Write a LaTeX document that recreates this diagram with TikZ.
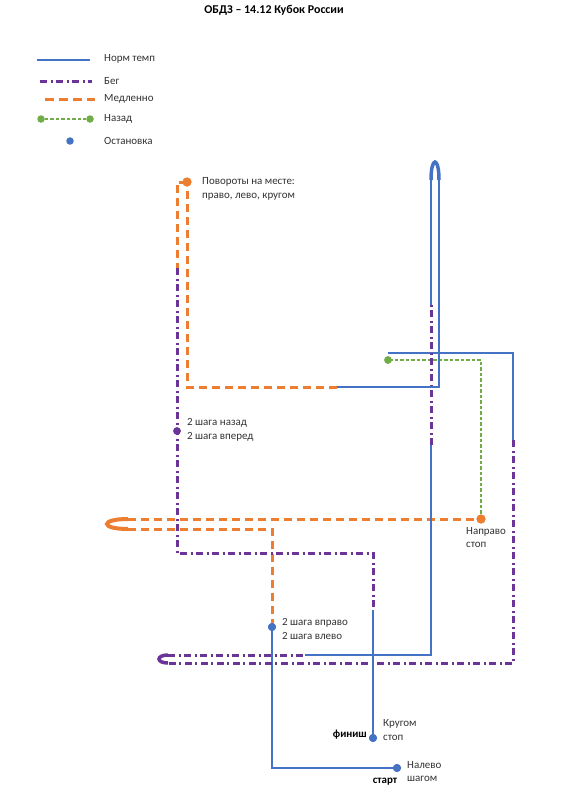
\documentclass[tikz,border=0pt]{standalone}
\usepackage{fontspec}
\setmainfont{Carlito}
\begin{document}
\begin{tikzpicture}[x=1bp,y=-1bp,
  lbl/.style={inner sep=0pt,anchor=west,align=left,text=txtc,font=\fontsize{11}{14}\selectfont},
  normline/.style={draw=myblue,line width=2.3bp},
  runline/.style={draw=mypurple,line width=3bp,dash pattern=on 7bp off 3.5bp on 2bp off 3.5bp},
  slowline/.style={draw=myorange,line width=3bp,dash pattern=on 8bp off 5bp},
  backline/.style={draw=mygreen,line width=1.4bp,dash pattern=on 3.5bp off 2bp},
  stopdot/.style={circle,inner sep=0pt,minimum size=8bp,fill=#1},
]
\definecolor{myblue}{HTML}{4472C4}
\definecolor{mypurple}{HTML}{6A3596}
\definecolor{myorange}{HTML}{ED7D31}
\definecolor{mygreen}{HTML}{70AD47}
\definecolor{txtc}{HTML}{333333}
\useasboundingbox[fill=white] (0,0) rectangle (587,800);

% title
\node[inner sep=0pt,font=\fontsize{12}{14}\selectfont\bfseries] (title) at (274,10) {ОБДЗ – 14.12 Кубок России};

% legend
\coordinate (l1a) at (37,60); \coordinate (l1b) at (90,60);
\draw[normline] (l1a) -- (l1b);
\node[lbl] (t1) at (104,59) {Норм темп};
\coordinate (l2a) at (40,81); \coordinate (l2b) at (92,81);
\draw[runline] (l2a) -- (l2b);
\node[lbl] (t2) at (104,81) {Бег};
\coordinate (l3a) at (45,99); \coordinate (l3b) at (95,99);
\draw[slowline,dash pattern=on 9bp off 5bp] (l3a) -- (l3b);
\node[lbl] (t3) at (104,99) {Медленно};
\node[stopdot=mygreen,minimum size=7.5bp] (l4a) at (41,119) {};
\node[stopdot=mygreen,minimum size=7.5bp] (l4b) at (90,119) {};
\draw[backline] (l4a) -- (l4b);
\node[lbl] (t4) at (104,119) {Назад};
\node[stopdot=myblue,minimum size=7.5bp] (l5) at (70,141) {};
\node[lbl] (t5) at (104,141) {Остановка};

% route points
\coordinate (s1) at (272,768);
\coordinate (o1) at (272,529);
\coordinate (o2) at (128,529);
\coordinate (o3) at (128,519);
\coordinate (g1) at (481,360);
\coordinate (b1) at (388,353);
\coordinate (b2) at (513,353);
\coordinate (b3) at (513,440);
\coordinate (p1) at (513,663);
\coordinate (p2) at (168,663);
\coordinate (p3) at (168,655);
\coordinate (p4) at (305,655);
\coordinate (b4) at (431,655);
\coordinate (b5) at (431,445);
\coordinate (b6) at (431,305);
\coordinate (u1) at (431,180);
\coordinate (u2) at (439,180);
\coordinate (b7) at (439,387);
\coordinate (b8) at (337,387);
\coordinate (o4) at (187,387);
\coordinate (o5) at (177,182);
\coordinate (o6) at (177,268);
\coordinate (p5) at (177,553);
\coordinate (p6) at (373,553);
\coordinate (p7) at (373,610);

% stops
\node[stopdot=myblue] (start) at (397,768) {};
\node[stopdot=myblue] (d1) at (272,627) {};
\node[stopdot=myorange,minimum size=9bp] (napr) at (481,519) {};
\node[stopdot=mygreen,minimum size=7.5bp] (gd) at (388,360) {};
\node[stopdot=myorange,minimum size=9bp] (pov) at (187,182) {};
\node[stopdot=mypurple,minimum size=7.5bp] (nazad) at (177,431) {};
\node[stopdot=myblue] (fin) at (373,738) {};

% route
\draw[normline] (start.center) -- (s1) -- (d1.center);
\draw[slowline] (d1.center) -- (o1) -- (o2);
\draw[myorange,line width=4bp] (o2) .. controls (100,529) and (100,519) .. (o3);
\draw[slowline] (o3) -- (napr.center);
\draw[backline] (napr.center) -- (g1) -- (gd.center);
\draw[normline] (b1) -- (b2) -- (b3);
\draw[runline] (b3) -- (p1) -- (p2);
\draw[mypurple,line width=3.5bp] (p2) .. controls (156,663) and (156,655) .. (p3);
\draw[runline] (p3) -- (p4);
\draw[normline] (p4) -- (b4) -- (b5);
\draw[runline] (b5) -- (b6);
\draw[normline] (b6) -- (u1);
\draw[myblue,line width=3.5bp] (u1) .. controls (431,156) and (439,156) .. (u2);
\draw[normline] (u2) -- (b7) -- (b8);
\draw[slowline] (b8) -- (o4) -- (pov.center);
\draw[slowline] (pov.center) -- (o5) -- (o6);
\draw[runline] (o6) -- (nazad.center) -- (p5) -- (p6) -- (p7);
\draw[normline] (p7) -- (fin.center);

% redraw dots on top
\node[stopdot=myblue] at (start) {};
\node[stopdot=myblue] at (d1) {};
\node[stopdot=myorange,minimum size=9bp] at (napr) {};
\node[stopdot=mygreen,minimum size=7.5bp] at (gd) {};
\node[stopdot=myorange,minimum size=9bp] at (pov) {};
\node[stopdot=mypurple,minimum size=7.5bp] at (nazad) {};
\node[stopdot=myblue] at (fin) {};

% labels
\node[lbl] (tpov) at (202,188.5) {Повороты на месте:\\право, лево, кругом};
\node[lbl] (tnaz) at (187,430) {2 шага назад\\2 шага вперед};
\node[lbl] (tnapr) at (466,537.5) {Направо\\стоп};
\node[lbl] (tvpr) at (282,629) {2 шага вправо\\2 шага влево};
\node[lbl] (tkr) at (383,730) {Кругом\\стоп};
\node[lbl] (tnal) at (407,771.5) {Налево\\шагом};
\node[inner sep=0pt,anchor=east,font=\fontsize{11}{14}\selectfont\bfseries] (tfin) at (367,735) {финиш};
\node[inner sep=0pt,font=\fontsize{11}{14}\selectfont\bfseries] (tst) at (385,782) {старт};
\end{tikzpicture}
\end{document}
